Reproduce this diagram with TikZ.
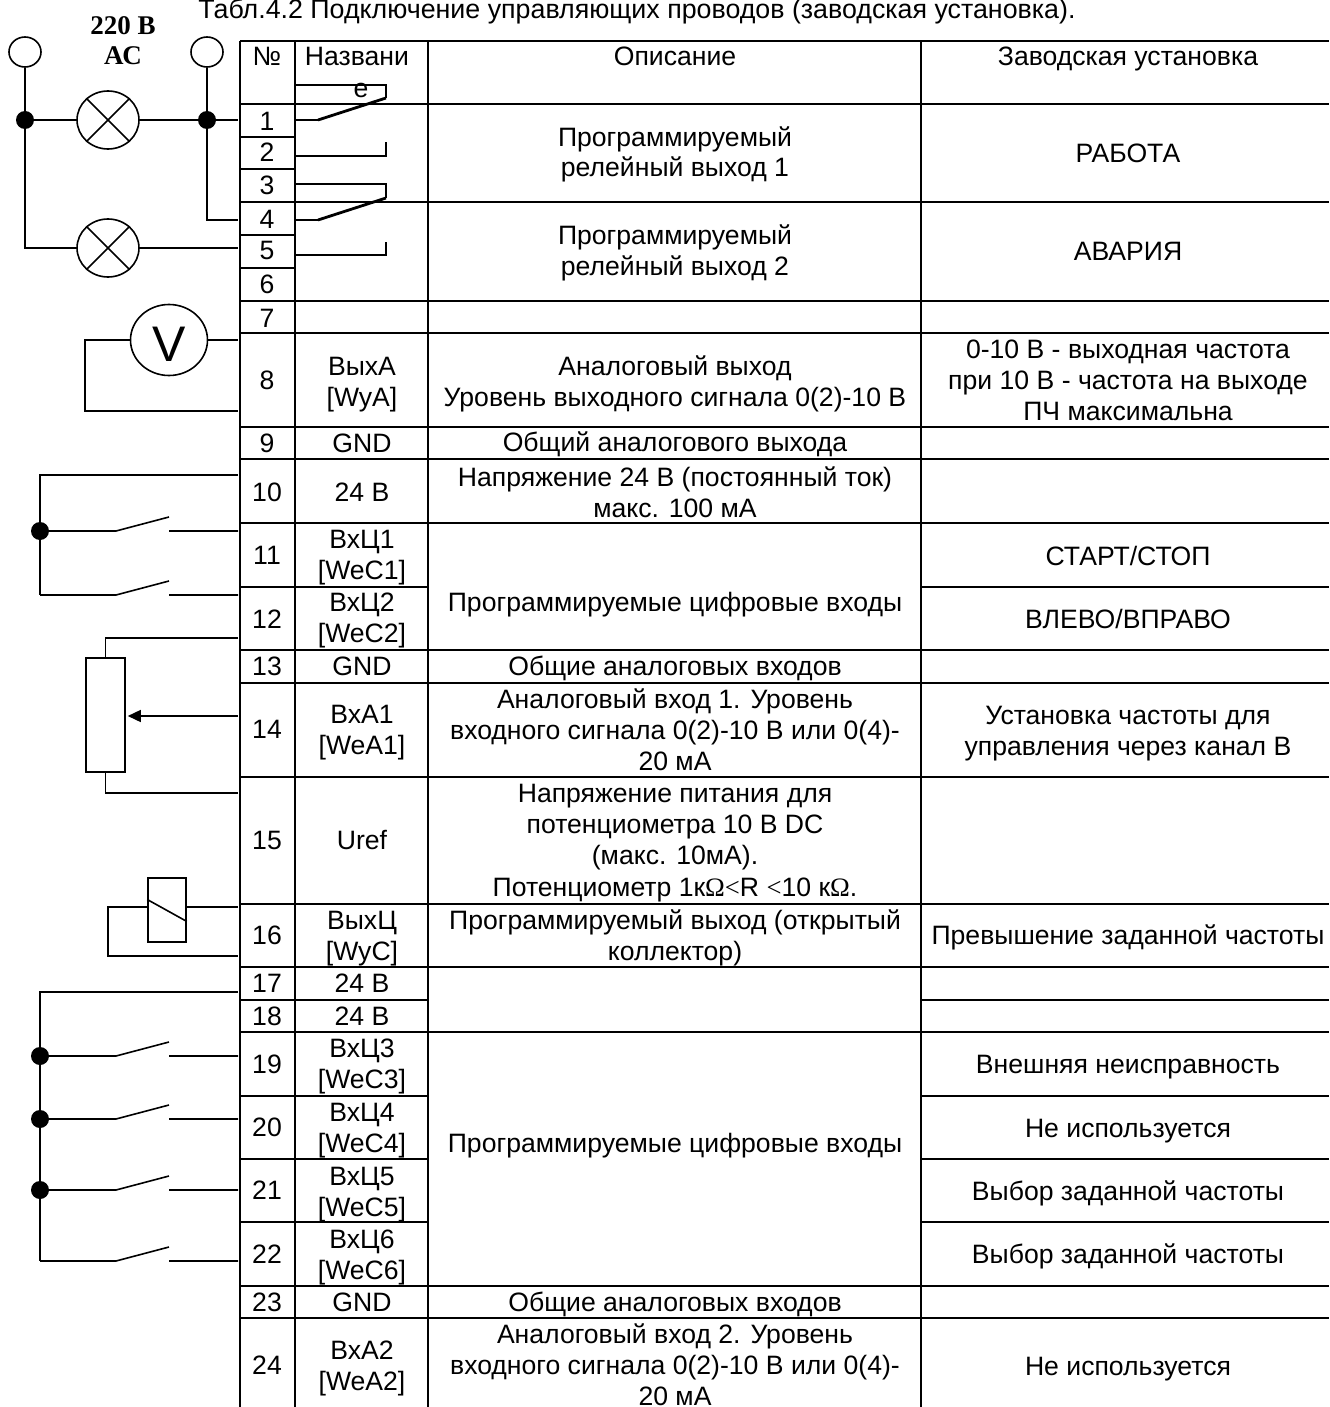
\documentclass[tikz,border=0pt]{standalone}
\usepackage{fontspec}
\usepackage{tikz}
\usetikzlibrary{positioning,shapes.geometric,arrows.meta}
\setmainfont{Liberation Sans}
\newfontfamily\timesfont{Liberation Serif}

\tikzset{
    grid line/.style={line width=0.75pt},
    wire/.style={line width=0.8pt},
    contact/.style={line width=1.4pt},
    cell/.style={font=\fontsize{13.3}{15.4}\selectfont, align=center, anchor=base, inner sep=0pt},
    terminal/.style={draw, wire, ellipse, inner sep=0pt, minimum width=16pt, minimum height=15pt},
    lamp/.style={draw, wire, ellipse, inner sep=0pt, minimum width=31pt, minimum height=29pt},
    junction/.style={circle, fill, inner sep=0pt, minimum size=9pt},
}

\begin{document}
\begin{tikzpicture}[x=0.5pt, y=-0.5pt]
    \useasboundingbox (0,0) rectangle (1329,1407);

    % table grid
    \foreach \y in {41,104,202,301,333,427,459,523,650,683,777,904,967,1032,1286,1318}
        \draw[grid line] (240,\y) -- (1329,\y);
    \foreach \y in {137,169,235,268}
        \draw[grid line] (240,\y) -- (295,\y);
    \foreach \y in {587,1000,1096,1159,1222} {
        \draw[grid line] (240,\y) -- (428,\y);
        \draw[grid line] (921,\y) -- (1329,\y);
    }
    \foreach \x in {240,295,428,921}
        \draw[grid line] (\x,41) -- (\x,1407);

    % headings
    \node[cell, font=\fontsize{13.4}{15.4}\selectfont] (title) at (637,19) {Табл.4.2 Подключение управляющих проводов (заводская установка).};
    \node[cell, font=\timesfont\bfseries\fontsize{13.5}{15}\selectfont] (supply) at (123,65) {220 В\\АС};
    \node[cell] (headNo) at (267,66) {№};
    \node[cell] (headName) at (357,66) {Названи};
    \node[cell] (headNameEnd) at (361,98) {е};
    \node[cell] (headDescr) at (675,66) {Описание};
    \node[cell] (headSet) at (1128,66) {Заводская установка};

    % terminal numbers
    \foreach \n/\y in {1/131,2/162,3/195,4/228,5/260,6/293,7/327,8/389,9/452,10/501,11/564,12/628,
            13/675,14/738,15/849,16/944,17/992,18/1025,19/1073,20/1136,21/1199,22/1263,23/1311,24/1374}
        \node[cell] (no\n) at (267,\y) {\n};

    % names
    \node[cell] (name8) at (362,406) {ВыхА\\{[WyA]}};
    \node[cell] (name9) at (362,452) {GND};
    \node[cell] (name10) at (362,501) {24 В};
    \node[cell] (name11) at (362,579) {ВхЦ1\\{[WeC1]}};
    \node[cell] (name12) at (362,642) {ВхЦ2\\{[WeC2]}};
    \node[cell] (name13) at (362,675) {GND};
    \node[cell] (name14) at (362,754) {ВхА1\\{[WeA1]}};
    \node[cell] (name15) at (362,849) {Uref};
    \node[cell] (name16) at (362,960) {ВыхЦ\\{[WyC]}};
    \node[cell] (name17) at (362,992) {24 В};
    \node[cell] (name18) at (362,1025) {24 В};
    \node[cell] (name19) at (362,1088) {ВхЦ3\\{[WeC3]}};
    \node[cell] (name20) at (362,1152) {ВхЦ4\\{[WeC4]}};
    \node[cell] (name21) at (362,1216) {ВхЦ5\\{[WeC5]}};
    \node[cell] (name22) at (362,1279) {ВхЦ6\\{[WeC6]}};
    \node[cell] (name23) at (362,1311) {GND};
    \node[cell] (name24) at (362,1390) {ВхА2\\{[WeA2]}};

    % descriptions
    \node[cell] (descrA) at (675,177) {Программируемый\\релейный выход 1};
    \node[cell] (descrB) at (675,275) {Программируемый\\релейный выход 2};
    \node[cell] (descr8) at (675,406) {Аналоговый выход\\Уровень выходного сигнала 0(2)-10 В};
    \node[cell] (descr9) at (675,451) {Общий аналогового выхода};
    \node[cell] (descr10) at (675,517) {Напряжение 24 В (постоянный ток)\\макс. 100 мА};
    \node[cell] (descr11) at (675,611) {Программируемые цифровые входы};
    \node[cell] (descr13) at (675,675) {Общие аналоговых входов};
    \node[cell] (descr14) at (675,770) {Аналоговый вход 1. Уровень\\входного сигнала 0(2)-10 В или 0(4)-\\20 мА};
    \node[cell] (descr15) at (675,864) {Напряжение питания для\\потенциометра 10 В DC\\(макс. 10мА).};
    \node[cell] (descr15b) at (675,896) {Потенциометр 1к{\timesfont Ω<}R {\timesfont <}10 к{\timesfont Ω}.};
    \node[cell] (descr16) at (675,960) {Программируемый выход (открытый\\коллектор)};
    \node[cell] (descr19) at (675,1152) {Программируемые цифровые входы};
    \node[cell] (descr23) at (675,1311) {Общие аналоговых входов};
    \node[cell] (descr24) at (675,1405) {Аналоговый вход 2. Уровень\\входного сигнала 0(2)-10 В или 0(4)-\\20 мА};

    % factory settings
    \node[cell] (setA) at (1128,163) {РАБОТА};
    \node[cell] (setB) at (1128,261) {АВАРИЯ};
    \node[cell] (set8) at (1128,420) {0-10 В - выходная частота\\при 10 В - частота на выходе\\ПЧ максимальна};
    \node[cell] (set11) at (1128,565) {СТАРТ/СТОП};
    \node[cell] (set12) at (1128,628) {ВЛЕВО/ВПРАВО};
    \node[cell] (set14) at (1128,755) {Установка частоты для\\управления через канал В};
    \node[cell] (set16) at (1128,944) {Превышение заданной частоты};
    \node[cell] (set19) at (1128,1073) {Внешняя неисправность};
    \node[cell] (set20) at (1128,1137) {Не используется};
    \node[cell] (set21) at (1128,1200) {Выбор заданной частоты};
    \node[cell] (set22) at (1128,1263) {Выбор заданной частоты};
    \node[cell] (set24) at (1128,1375) {Не используется};

    % free wire ends at the table
    \foreach \n/\y in {1/120,4/220,5/248,8/340,9/411,10/475,12/638,14/716,15/793,16/907,17/956,18/992}
        \coordinate (term\n) at (238,\y);

    % supply and lamps
    \node[terminal] (inL) at (25,52) {};
    \node[terminal] (inR) at (207,52) {};
    \node[junction] (dotL) at (25,120) {};
    \node[junction] (dotR) at (207,120) {};
    \node[lamp] (lampA) at (108,120) {};
    \node[lamp, on grid, below=64pt of lampA] (lampB) {};
    \foreach \lamp in {lampA,lampB}
        \draw[wire] (\lamp.45) -- (\lamp.225) (\lamp.135) -- (\lamp.315);
    \draw[wire] (inL) -- (dotL) |- (lampB);
    \draw[wire] (inR) -- (dotR) |- (term4);
    \draw[wire] (dotL) -- (lampA) -- (dotR) -- (term1);
    \draw[wire] (lampB) -- (term5);

    % voltmeter
    \node[draw, wire, ellipse, inner sep=0pt, minimum width=38.5pt, minimum height=35.5pt,
        font=\fontsize{25}{25}\selectfont, text height=21.5pt] (volt) at (169,340) {V};
    \draw[wire] (term8) -- (volt);
    \coordinate[left=22.5pt of volt.west] (voltTurn);
    \draw[wire] (volt) -- (voltTurn) |- (term9);

    % relay contacts
    \foreach \r/\a/\b in {A/85/98,B/184/198} {
        \coordinate (com\r) at (295,\a);
        \coordinate (comEnd\r) at (386,\a);
        \coordinate (pin\r) at (386,\b);
    }
    \foreach \r/\a/\b in {A/156/142,B/255/242} {
        \coordinate (no\r) at (295,\a);
        \coordinate (noEnd\r) at (386,\a);
        \coordinate (noTip\r) at (386,\b);
    }
    \foreach \r/\y in {A/120,B/220} {
        \coordinate (arm\r) at (295,\y);
        \coordinate (pivot\r) at (318,\y);
    }
    \foreach \r in {A,B} {
        \draw[wire] (com\r) -- (comEnd\r) -- (pin\r);
        \draw[wire] (no\r) -- (noEnd\r) -- (noTip\r);
        \draw[wire] (arm\r) -- (pivot\r);
        \draw[contact] (pivot\r) -- (pin\r);
    }

    % switches
    \foreach \n/\y in {11/531,12/595,19/1056,20/1119,21/1190,22/1261} {
        \coordinate (bus\n) at (40,\y);
        \coordinate (sw\n a) at (116,\y);
        \coordinate (sw\n b) at (169,\y-14);
        \coordinate (sw\n c) at (169,\y);
        \coordinate (swEnd\n) at (238,\y);
        \draw[wire] (bus\n) -- (sw\n a) -- (sw\n b) (sw\n c) -- (swEnd\n);
    }
    \draw[wire] (term10) -| (bus12);
    \draw[wire] (term18) -| (bus22);
    \foreach \n in {11,19,20,21}
        \node[junction] (dot\n) at (bus\n) {};

    % potentiometer
    \node[draw, wire, inner sep=0pt, minimum width=19.5pt, minimum height=57pt] (pot) at (105.5,715) {};
    \draw[wire] (term12) -| (pot.north);
    \draw[wire] (term15) -| (pot.south);
    \draw[wire, -{Triangle[length=6.5pt, width=6pt]}, shorten >=1pt] (term14) -- (term14 -| pot.east);

    % output relay
    \node[draw, wire, inner sep=0pt, minimum width=19pt, minimum height=32pt] (coil) at (167,910) {};
    \draw[wire] (coil.152) -- (coil.-30);
    \draw[wire] (term16) -- (term16 -| coil.east);
    \coordinate (coilTurn) at (108,907);
    \draw[wire] (term16 -| coil.west) -- (coilTurn) |- (term17);
\end{tikzpicture}
\end{document}
